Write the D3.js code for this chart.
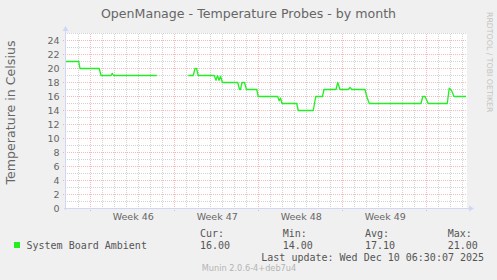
<!DOCTYPE html>
<html><head><meta charset="utf-8">
<script src="https://cdn.jsdelivr.net/npm/d3@7"></script>
<style>
html,body{margin:0;padding:0;background:#f0f0f0;}
svg{display:block;}
</style></head>
<body>
<script>
// ---- data ----
const timeDomain = ["2025-11-06T22:30", "2025-12-10T06:30"];
const sampleTimes = [
 "2025-11-06T22:30","2025-11-08T00:00","2025-11-08T02:30","2025-11-09T17:00","2025-11-09T20:30",
 "2025-11-10T16:30","2025-11-10T19:00","2025-11-10T21:30","2025-11-14T12:00","2025-11-15T12:00",
 "2025-11-17T03:00","2025-11-17T13:00","2025-11-17T16:30","2025-11-17T19:30","2025-11-17T23:00",
 "2025-11-19T07:00","2025-11-19T10:30","2025-11-19T13:30","2025-11-19T16:30","2025-11-19T19:30",
 "2025-11-19T23:30","2025-11-21T06:00","2025-11-21T09:30","2025-11-21T11:30","2025-11-21T14:30",
 "2025-11-21T19:30","2025-11-21T23:30","2025-11-22T20:00","2025-11-22T23:00","2025-11-24T14:00",
 "2025-11-24T17:00","2025-11-24T19:30","2025-11-24T22:30","2025-11-26T04:00","2025-11-26T07:00",
 "2025-11-27T13:00","2025-11-27T18:00","2025-11-28T07:30","2025-11-28T10:30","2025-11-29T10:30",
 "2025-11-29T14:00","2025-11-29T18:30","2025-11-30T11:00","2025-11-30T14:30","2025-11-30T18:00",
 "2025-12-01T20:30","2025-12-02T00:00","2025-12-02T05:00","2025-12-06T12:30","2025-12-06T16:00",
 "2025-12-06T20:30","2025-12-07T03:00","2025-12-08T17:00","2025-12-08T21:00","2025-12-09T02:00",
 "2025-12-09T06:30","2025-12-10T06:30"
];
const ambientTemps = [
 21,21,20,20,19,
 19,19.3,19,19,null,
 19,19,20,20,19,
 19,18.3,19,18.3,18.9,
 18,18,17,17,18,
 18,17,17,16,16,
 15.4,15.8,15,15,14,
 14,16,16,17,17,
 18,17,17,17.3,17,
 17,16,15,15,16,
 16,15,15,17.2,16.8,
 16,16
];
const yDomain = [0, 25];
const yTickValues = [0,2,4,6,8,10,12,14,16,18,20,22,24];
const weekLabelTimes = ["2025-11-12T12:00","2025-11-19T12:00","2025-11-26T12:00","2025-12-03T12:00"];
const weekLabels = ["Week 46","Week 47","Week 48","Week 49"];
const seriesName = "System Board Ambient";
const statHeads = ["Cur:","Min:","Avg:","Max:"];
const statValues = ["16.00","14.00","17.10","21.00"];
const titleText = "OpenManage - Temperature Probes - by month";
const yTitle = "Temperature in Celsius";
const lastUpdate = "Last update: Wed Dec 10 06:30:07 2025";
const watermark = "Munin 2.0.6-4+deb7u4";
const sideMark = "RRDTOOL / TOBI OETIKER";

// ---- drawing ----
const W = 497, H = 280;
const parse = d3.utcParse("%Y-%m-%dT%H:%M");
const L = 66, R = 466, T = 33.5, B = 208.5;
const x = d3.scaleUtc().domain(timeDomain.map(parse)).range([L, R]);
const y = d3.scaleLinear().domain(yDomain).range([B, T]);

const svg = d3.select("body").append("svg").attr("width", W).attr("height", H)
  .style("font-family", "'DejaVu Sans', sans-serif");
svg.append("rect").attr("width", W).attr("height", H).attr("fill", "#f0f0f0");
svg.append("rect").attr("x", L).attr("y", T - 0.5).attr("width", R - L + 1).attr("height", B - T + 0.5).attr("fill", "#ffffff");

const MINOR = "rgba(140,140,140,0.38)", MAJOR = "rgba(235,90,90,0.42)";
const grid = svg.append("g").attr("stroke-dasharray", "1,1").attr("stroke-width", 1).attr("shape-rendering", "crispEdges");
// horizontal grid
d3.range(1, yDomain[1] + 1).forEach(v => {
  const major = v % 2 === 0;
  grid.append("line").attr("x1", major ? L - 3 : L - 1).attr("x2", R + 1)
    .attr("y1", y(v)).attr("y2", y(v)).attr("stroke", major ? MAJOR : MINOR);
});
// vertical grid (days / weeks)
x.ticks(d3.utcDay.every(1)).forEach(d => {
  const px = Math.round(x(d) - 0.5) + 0.5;
  if (px <= L + 0.5) return;
  const major = d.getUTCDay() === 0;
  grid.append("line").attr("x1", px).attr("x2", px).attr("y1", T).attr("y2", major ? B + 3 : B + 1)
    .attr("stroke", major ? MAJOR : MINOR);
});

// axes lines
const AX = "#CFD6F8";
svg.append("line").attr("x1", L - 0.5).attr("x2", L - 0.5).attr("y1", B + 1).attr("y2", 28).attr("stroke", AX).attr("shape-rendering", "crispEdges");
svg.append("line").attr("x1", L - 2).attr("x2", 471).attr("y1", B).attr("y2", B).attr("stroke", AX).attr("shape-rendering", "crispEdges");
svg.append("path").attr("d", `M${L-3.5},31L${L+2.5},31L${L-0.5},26Z`).attr("fill", AX);
svg.append("path").attr("d", `M469,205.5L469,211.5L474,208.5Z`).attr("fill", AX);

// tick labels via d3 axes
const yAxis = d3.axisLeft(y).tickValues(yTickValues).tickFormat(d => String(d)).tickSize(0).tickPadding(6.5);
const gy = svg.append("g").attr("transform", `translate(${L},0)`).call(yAxis);
gy.select(".domain").remove();
gy.selectAll("text").attr("font-size", 9.5).attr("fill", "#666").attr("font-family", "'DejaVu Sans', sans-serif");

const weekDates = weekLabelTimes.map(parse);
const xAxis = d3.axisBottom(x).tickValues(weekDates).tickFormat((d, i) => weekLabels[i]).tickSize(0).tickPadding(4.3);
const gx = svg.append("g").attr("transform", `translate(0,${B})`).call(xAxis);
gx.select(".domain").remove();
gx.selectAll("text").attr("font-size", 9.5).attr("fill", "#666").attr("font-family", "'DejaVu Sans', sans-serif");

// data line
const pts = sampleTimes.map((t, i) => ({t: parse(t), v: ambientTemps[i]}));
const line = d3.line().defined(d => d.v !== null).x(d => x(d.t)).y(d => y(d.v));
const GREEN = "#22EE22";
svg.append("path").datum(pts).attr("d", line).attr("fill", "none")
  .attr("stroke", GREEN).attr("stroke-width", 1.3).attr("stroke-linejoin", "round");

// title
svg.append("text").attr("x", 248.5).attr("y", 17.5).attr("text-anchor", "middle")
  .attr("font-size", 12.6).attr("fill", "#666").text(titleText);
// y title
svg.append("text").attr("transform", "translate(15,112.5) rotate(-90)").attr("text-anchor", "middle")
  .attr("font-size", 12.6).attr("fill", "#666").text(yTitle);
// side watermark
svg.append("text").attr("transform", "translate(486.5,12) rotate(90)").attr("text-anchor", "start")
  .attr("font-size", 7.8).attr("fill", "#c4c4c4").text(sideMark);

// legend
const mono = "'DejaVu Sans Mono', monospace";
svg.append("rect").attr("x", 14).attr("y", 242).attr("width", 6).attr("height", 6).attr("fill", GREEN);
svg.append("text").attr("x", 26.5).attr("y", 249).attr("font-family", mono).attr("font-size", 10).attr("fill", "#555").text(seriesName);
const statX = [200, 282.7, 365, 447.7];
statHeads.forEach((h, i) => {
  svg.append("text").attr("x", statX[i]).attr("y", 237).attr("font-family", mono).attr("font-size", 10).attr("fill", "#555").text(h);
  svg.append("text").attr("x", statX[i]).attr("y", 249).attr("font-family", mono).attr("font-size", 10).attr("fill", "#555").text(statValues[i]);
});
svg.append("text").attr("x", 261.3).attr("y", 261).attr("font-family", mono).attr("font-size", 10).attr("fill", "#555").text(lastUpdate);
svg.append("text").attr("x", 249).attr("y", 271).attr("text-anchor", "middle").attr("font-size", 8.2).attr("fill", "#b4b4b4").text(watermark);
</script>
</body></html>
